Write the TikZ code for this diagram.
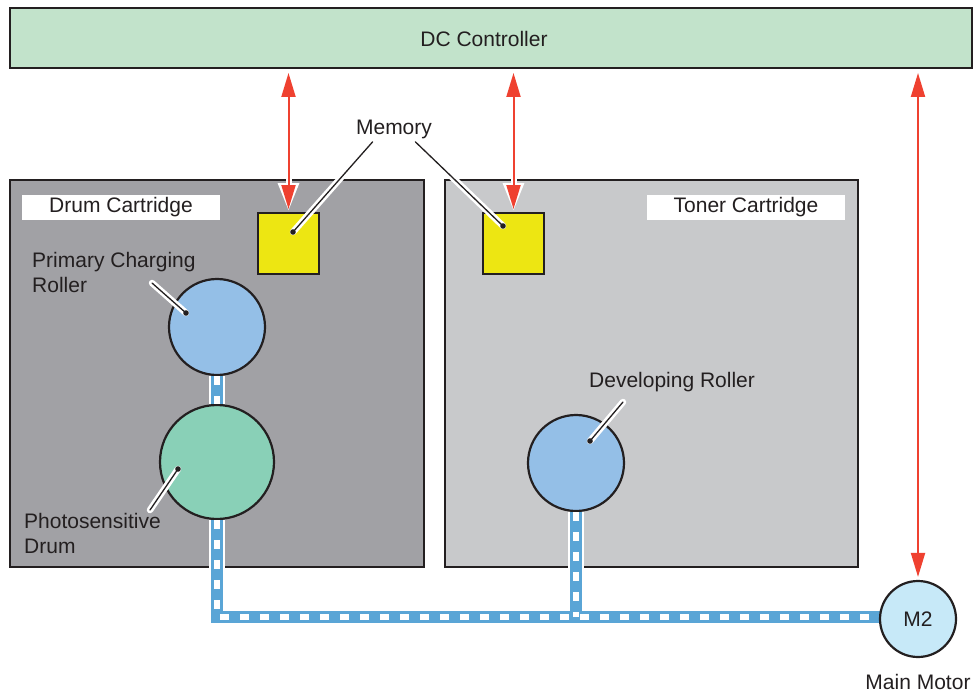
\documentclass[tikz,border=0pt]{standalone}
\usepackage{fontspec}
\setmainfont{Liberation Sans}
\usetikzlibrary{positioning,arrows.meta}

\definecolor{txtgray}{HTML}{231F20}
\definecolor{ctrlgreen}{HTML}{C2E3CB}
\definecolor{drumgray}{HTML}{A1A1A5}
\definecolor{tonergray}{HTML}{C8C9CB}
\definecolor{memyellow}{HTML}{EDE612}
\definecolor{rollblue}{HTML}{94BFE7}
\definecolor{drumgreen}{HTML}{89D0B7}
\definecolor{motorblue}{HTML}{C7E9F8}
\definecolor{sigred}{HTML}{EF4130}
\definecolor{beltblue}{HTML}{5AA5D6}

\begin{document}
\begin{tikzpicture}[x=1pt,y=-1pt,
    every node/.style={font=\fontsize{21}{25}\selectfont,text=txtgray},
    box/.style={draw=txtgray,line width=2pt,inner sep=0pt},
    cart/.style={box,minimum height=387pt},
    tag/.style={fill=white,minimum width=198pt,minimum height=25pt,inner sep=0pt},
    memory/.style={box,fill=memyellow,minimum size=61pt},
    roller/.style={circle,draw=txtgray,line width=2.2pt,inner sep=0pt},
    lbl/.style={align=left,inner sep=0pt},
    sig/.style={draw=sigred,line width=2pt,{Triangle[length=24pt,width=14pt]}-{Triangle[length=24pt,width=14pt]},shorten <=4pt,shorten >=3pt},
    sigback/.style={draw=white,line width=6pt,{Triangle[length=28pt,width=20pt]}-{Triangle[length=28pt,width=20pt]},shorten <=2pt,shorten >=1pt},
    lead/.style={draw=txtgray,line width=1.3pt,line cap=round,preaction={draw=white,line width=6.5pt,line cap=round}},
    beltedge/.style={draw=white,line width=16pt},
    beltcore/.style={draw=beltblue,line width=12pt},
    beltdash/.style={draw=white,line width=6pt,dash pattern=on 9pt off 11pt}
]
\useasboundingbox (0,0) rectangle (976,695);

% controller and cartridges
\node[box,fill=ctrlgreen,minimum width=962pt,minimum height=60pt] (dc) at (491,38) {};
\node (dclbl) at (484,39) {DC Controller};
\node[cart,fill=drumgray,minimum width=414pt]  (drumcart)  at (217,373.5) {};
\node[cart,fill=tonergray,minimum width=413pt] (tonercart) at (651.5,373.5) {};
\node[tag] (drumtag)  at (121,207.5) {Drum Cartridge};
\node[tag] (tonertag) at (746,207.5) {Toner Cartridge};

% memory chips
\node[memory] (memL) at (288.5,243.5) {};
\node[memory] (memR) at (513.5,243.5) {};
\node (mem) at (394,129) {Memory};

% rollers and motor
\node[roller,fill=rollblue,minimum size=96pt]   (pcr)  at (217,327) {};
\node[roller,fill=drumgreen,minimum size=114pt] (drum) at (217,462) {};
\node[roller,fill=rollblue,minimum size=96pt]   (dev)  at (576,463) {};

% drive belt
\coordinate (joint) at (576,617);
\foreach \s in {beltedge,beltcore,beltdash}{
  \draw[\s] (pcr.south) -- (drum.north);
  \draw[\s] (dev.south) -- (joint);
  \draw[\s] (drum.south) |- (joint) -- (880,617);
}
\node[roller,fill=motorblue,minimum size=76pt] (m2) at (918,619) {M2};
\node (m2lbl) [below=13pt of m2] {Main Motor};

% signal lines
\foreach \m in {memL,memR,m2}{
  \draw[sigback] (dc.south -| \m.north) -- (\m.north);
  \draw[sig] (dc.south -| \m.north) -- (\m.north);
}

% labels with leaders
\node[lbl,anchor=north west] (pcrlbl)  at (32,252) {Primary Charging\\Roller};
\node[lbl,anchor=north west] (drumlbl) at (24,513) {Photosensitive\\Drum};
\node[lbl,anchor=west]       (devlbl)  at (589,382) {Developing Roller};

\coordinate (pcrtip)  at (152,283);
\coordinate (pcrdot)  at (186,313);
\coordinate (drumtip) at (150,510);
\coordinate (drumdot) at (178,469);
\coordinate (devtip)  at (623,402);
\coordinate (devdot)  at (590,441);
\coordinate (memLdot) at (293,232);
\coordinate (memRdot) at (503,226);

\draw[lead] (pcrtip) -- (pcrdot);
\draw[lead] (drumtip) -- (drumdot);
\draw[lead] (devtip) -- (devdot);
\draw[lead] (mem.south west) ++(20,0) -- (memLdot);
\draw[lead] (mem.south east) ++(-20,0) -- (memRdot);
\foreach \d in {pcrdot,drumdot,devdot,memLdot,memRdot}
  \fill[txtgray] (\d) circle (2.8pt);

\end{tikzpicture}
\end{document}
